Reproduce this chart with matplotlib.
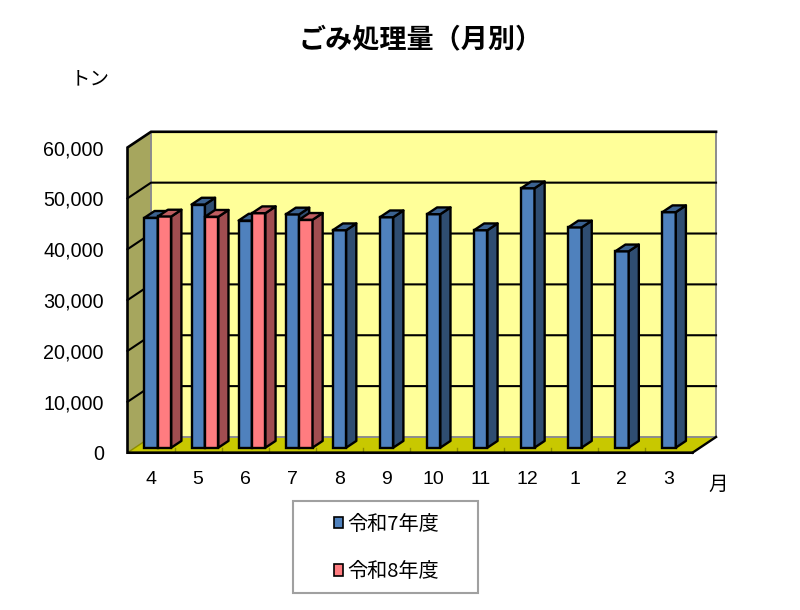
import matplotlib
matplotlib.use("Agg")
import matplotlib.pyplot as plt
from matplotlib.patches import Polygon, Patch, Rectangle

months = ["4", "5", "6", "7", "8", "9", "10", "11", "12", "1", "2", "3"]
reiwa7 = [45200, 47800, 44650, 45850, 42750, 45300, 45900, 42750, 51000, 43300, 38600, 46300]
reiwa8 = [45450, 45400, 46100, 44800]
y_ticks = [0, 10000, 20000, 30000, 40000, 50000, 60000]

JP = ["Noto Sans CJK JP", "DejaVu Sans"]
plt.rcParams["font.family"] = ["Liberation Sans", "Noto Sans CJK JP", "DejaVu Sans"]

DX, DY = 0.50, 3090        # full depth of the 3-D box, in data units
D0, D1 = 0.32, 0.75        # depth range of the bars
BW = 0.285

fig = plt.figure(figsize=(8, 6.1), dpi=100)
ax = fig.add_axes([127.5/800, 1-452.7/610, 565/800, 305.2/610])
ax.set_xlim(0, 12)
ax.set_ylim(0, 60000)
for s in ax.spines.values():
    s.set_visible(False)

def poly(pts, fc, ec="black", lw=1.7, z=1):
    ax.add_patch(Polygon(pts, closed=True, facecolor=fc, edgecolor=ec, linewidth=lw,
                         zorder=z, clip_on=False, joinstyle="round"))

top = y_ticks[-1]
# walls and floor
poly([(DX, DY), (12+DX, DY), (12+DX, top+DY), (DX, top+DY)], "#FFFF99", ec="none", z=1)
poly([(0, 0), (DX, DY), (DX, top+DY), (0, top)], "#A6A65E", ec="none", z=1)
poly([(0, 0), (12, 0), (12+DX, DY), (DX, DY)], "#C8C800", ec="none", z=1)
ax.plot([DX, DX, 12+DX], [top+DY, DY, DY], color="#8C8C8C", lw=1.4, zorder=1.5, clip_on=False)
ax.plot([12+DX, 12+DX], [DY, top+DY], color="#8C8C8C", lw=1.4, zorder=1.5, clip_on=False)
for i in range(1, 12):
    ax.plot([i, i], [0, 900], color="#8C8C00", lw=1.0, zorder=1.6)
# gridlines
for v in y_ticks[1:-1]:
    ax.plot([0, DX, 12+DX], [v, v+DY, v+DY], color="black", lw=1.5, zorder=2, clip_on=False)
# outline
ax.plot([12, 12+DX], [0, DY], color="black", lw=1.7, zorder=2, clip_on=False)
ax.plot([12+DX, DX, 0, 0, 12], [top+DY, top+DY, top, 0, 0], color="black", lw=1.9,
        zorder=2, clip_on=False, solid_joinstyle="miter")
ax.plot([0, DX], [0, DY], color="#8C8C00", lw=1.0, zorder=1.6, clip_on=False)

base = D0 * DY
depth = D1 - D0

def bars3d(vals, shift, front, side, topc, z):
    for i, v in enumerate(vals):
        x0 = i + shift + D0 * DX
        z0 = z + i * 0.01
        ax.bar(x0, v, BW, bottom=base, align="edge", color=front, edgecolor="black",
               linewidth=1.7, zorder=z0)
        x1 = x0 + BW
        dx, dy = depth * DX, depth * DY
        poly([(x1, base), (x1+dx, base+dy), (x1+dx, base+v+dy), (x1, base+v)], side, z=z0)
        poly([(x0, base+v), (x0+dx, base+v+dy), (x1+dx, base+v+dy), (x1, base+v)], topc, z=z0)

bars3d(reiwa7, 0.5 - BW - 0.015, "#4F81BD", "#2F4D71", "#3B6291", 3)
bars3d(reiwa8, 0.5 - 0.015, "#FF7C80", "#A04D50", "#BF5D60", 4)

ax.set_xticks([i + 0.5 for i in range(12)], months, fontsize=14)
ax.set_yticks(y_ticks, [f"{v:,}" for v in y_ticks], fontsize=14.2)
ax.tick_params(axis="both", length=0)
ax.tick_params(axis="x", pad=13.5)
ax.tick_params(axis="y", pad=17)

fig.text(299/800, 1-39/610, "ごみ処理量（月別）", family=JP, fontsize=19.5, fontweight="bold",
         ha="left", va="center")
fig.text(90/800, 1-79/610, "トン", family=JP, fontsize=14, ha="center", va="center")
fig.text(718/800, 1-484/610, "月", family=JP, fontsize=14, ha="center", va="center")

fig.add_artist(Rectangle((293/800, 1-592.7/610), 185/800, 91.7/610, transform=fig.transFigure,
                         facecolor="white", edgecolor="#A0A0A0", linewidth=1.5))
handles = [Patch(facecolor="#4F81BD", edgecolor="black", linewidth=1.2),
           Patch(facecolor="#FF7C80", edgecolor="black", linewidth=1.2)]
leg = fig.legend(handles, ["令和7年度", "令和8年度"], prop={"family": JP, "size": 14.5},
                 loc="center", bbox_to_anchor=(386.5/800, 1-548/610),
                 frameon=False, handlelength=0.48, handleheight=0.48, handletextpad=0.2,
                 labelspacing=1.3, borderpad=0, borderaxespad=0)
leg.set_zorder(5)

fig.savefig("out.png", dpi=100)
